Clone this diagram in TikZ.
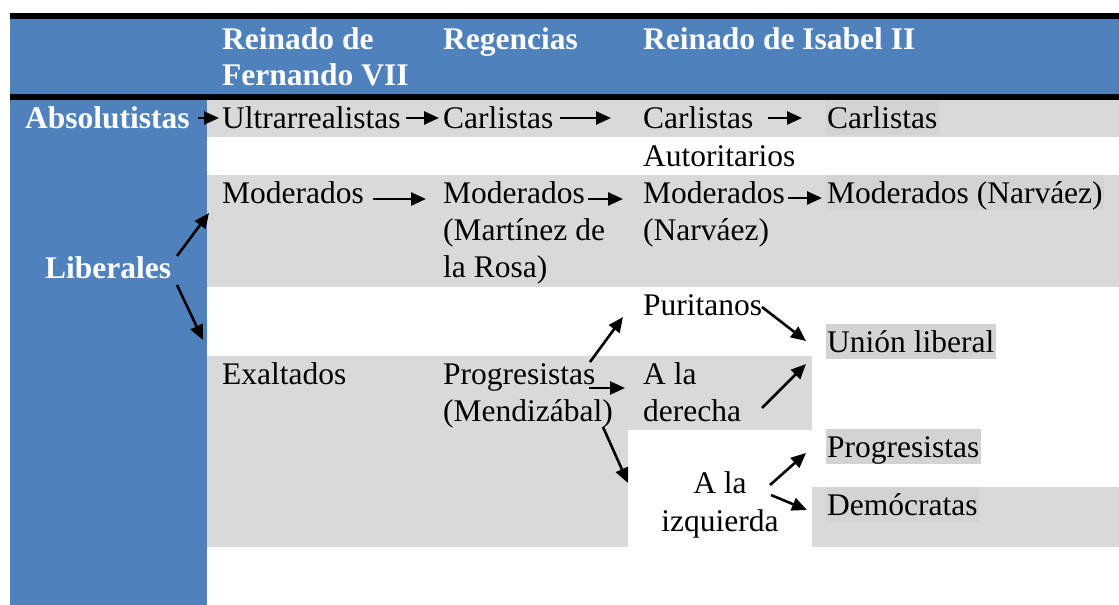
\documentclass[tikz,border=0pt]{standalone}
\usepackage{fontspec}
\setmainfont{Liberation Serif}
\usetikzlibrary{arrows.meta}
\definecolor{hblue}{HTML}{4F81BD}
\definecolor{rowgray}{HTML}{D9D9D9}
\definecolor{hlgray}{HTML}{D3D3D3}
\begin{document}
\begin{tikzpicture}[x=1pt,y=-1pt,
  txt/.style={anchor=base west,inner sep=0pt,font=\fontsize{31.5}{36}\selectfont},
  ctxt/.style={txt,anchor=base},
  hdr/.style={anchor=base west,inner sep=0pt,text=white,font=\fontsize{31.5}{36}\selectfont\bfseries},
  hl/.style={txt,fill=hlgray,text height=27.9pt,text depth=6.8pt,inner xsep=1.5pt},
  arr/.style={line width=2.6pt,-{Triangle[length=15pt,width=13pt]}}]
\useasboundingbox (0,0) rectangle (1119,605);
% backgrounds
\fill[hblue] (10,19) rectangle (1119,94);
\fill[black] (10,13) rectangle (1119,19);
\fill[black] (10,94) rectangle (1119,100);
\fill[hblue] (10,100) rectangle (206.5,605);
\fill[rowgray] (206.5,100) rectangle (1119,137);
\fill[rowgray] (206.5,175) rectangle (1119,287);
\fill[rowgray] (206.5,356) rectangle (628,547);
\fill[rowgray] (628,356) rectangle (812,430);
\fill[rowgray] (812,487) rectangle (1119,547);
% header
\node[hdr] (hA1) at (222,49) {Reinado de};
\node[hdr] (hA2) at (222,85.5) {Fernando VII};
\node[hdr] (hB) at (443,49) {Regencias};
\node[hdr] (hC) at (643,49) {Reinado de Isabel II};
\node[hdr] (abs) at (25,128) {Absolutistas};
\node[hdr] (lib) at (45,278) {Liberales};
% row 1
\node[txt] (ultra) at (222,128) {Ultrarrealistas};
\node[txt] (carl2) at (443,128) {Carlistas};
\node[txt] (carl3) at (643,128) {Carlistas};
\node[hl] (carl4) at (825.5,128) {Carlistas};
\node[txt] (auto) at (643,166) {Autoritarios};
% moderados
\node[txt] (mod1) at (222,203) {Moderados};
\node[txt] (mod2a) at (443,203) {Moderados};
\node[txt] (mod2b) at (443,240) {(Martínez de};
\node[txt] (mod2c) at (443,277) {la Rosa)};
\node[txt] (mod3a) at (643,203) {Moderados};
\node[txt] (mod3b) at (643,240) {(Narváez)};
\node[hl] (mod4) at (825.5,203) {Moderados (Narváez)};
% lower part
\node[txt] (puri) at (643,315) {Puritanos};
\node[hl] (union) at (825.5,352) {Unión liberal};
\node[txt] (exal) at (222,384) {Exaltados};
\node[txt] (prog2a) at (443,384) {Progresistas};
\node[txt] (prog2b) at (443,421) {(Mendizábal)};
\node[txt] (dera) at (643,384) {A la};
\node[txt] (derb) at (643,421) {derecha};
\node[hl] (prog4) at (825.5,457) {Progresistas};
\node[ctxt] (izqa) at (720,493) {A la};
\node[ctxt] (izqb) at (720,531) {izquierda};
\node[hl] (demo) at (825.5,515) {Demócratas};
% arrow end points
\coordinate (a1s) at (198,118); \coordinate (a1e) at (219,118);
\coordinate (a2s) at (406,118); \coordinate (a2e) at (439,118);
\coordinate (a3s) at (560,118); \coordinate (a3e) at (611,118);
\coordinate (a4s) at (768,118); \coordinate (a4e) at (802,118);
\coordinate (a5s) at (373,199); \coordinate (a5e) at (426,199);
\coordinate (a6s) at (588,199); \coordinate (a6e) at (623,199);
\coordinate (a7s) at (788,198); \coordinate (a7e) at (822,198);
\coordinate (a8s) at (177,256); \coordinate (a8e) at (209,213);
\coordinate (a9s) at (177,285); \coordinate (a9e) at (203,340);
\coordinate (a10s) at (590,362); \coordinate (a10e) at (623,317);
\coordinate (a11s) at (589,388); \coordinate (a11e) at (625,388);
\coordinate (a12s) at (603,427); \coordinate (a12e) at (628,483);
\coordinate (a13s) at (762,307); \coordinate (a13e) at (806,341);
\coordinate (a14s) at (762,408); \coordinate (a14e) at (806,364);
\coordinate (a15s) at (770,485); \coordinate (a15e) at (806,453);
\coordinate (a16s) at (771,495); \coordinate (a16e) at (807,510);
\foreach \i in {1,...,16} {\draw[arr] (a\i s) -- (a\i e);}
\end{tikzpicture}
\end{document}
